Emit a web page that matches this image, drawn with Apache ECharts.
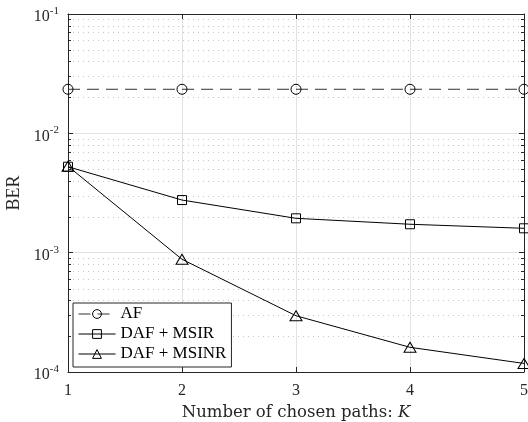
<!DOCTYPE html>
<html>
<head>
<meta charset="utf-8">
<script src="https://cdn.jsdelivr.net/npm/echarts@6/dist/echarts.min.js"></script>
<style>html,body{margin:0;padding:0;background:#fff;}#c{width:528px;height:422px;}</style>
</head>
<body>
<div id="c"></div>
<script>
const kValues = [1, 2, 3, 4, 5];
const afBER = [2.34e-2, 2.34e-2, 2.34e-2, 2.34e-2, 2.34e-2];
const dafMsirBER = [5.25e-3, 2.76e-3, 1.94e-3, 1.73e-3, 1.60e-3];
const dafMsinrBER = [5.3e-3, 8.8e-4, 2.96e-4, 1.61e-4, 1.18e-4];
const seriesNames = ['AF', 'DAF + MSIR', 'DAF + MSINR'];
const yMin = 1e-4, yMax = 1e-1;

const FONT = 'Liberation Serif';
const AXIS_COLOR = '#262626';

// minor log ticks (2..9 per decade)
const minorVals = [];
for (let d = -4; d < -1; d++) {
  for (let m = 2; m <= 9; m++) minorVals.push(m * Math.pow(10, d));
}

function pairs(ys) { return kValues.map((k, i) => [k, ys[i]]); }

const chart = echarts.init(document.getElementById('c'), null, {renderer: 'canvas'});

const markerStyle = {color: 'rgba(0,0,0,0)', borderColor: '#000', borderWidth: 1};

const option = {
  backgroundColor: '#fff',
  animation: false,
  textStyle: {fontFamily: FONT},
  grid: {left: 68, right: 4, top: 14, bottom: 50, containLabel: false, outerBoundsMode: 'none'},
  legend: {
    data: seriesNames,
    orient: 'vertical',
    left: 73, top: 303,
    itemWidth: 37, itemHeight: 11, itemGap: 0,
    padding: [1, 5, 3, 5],
    backgroundColor: '#fff',
    borderColor: AXIS_COLOR, borderWidth: 1,
    lineStyle: {width: 1},
    itemStyle: {borderWidth: 1},
    textStyle: {fontFamily: FONT, fontSize: 17, color: '#000', lineHeight: 20}
  },
  xAxis: [{
    type: 'value', min: 1, max: 5, interval: 1, position: 'bottom',
    name: '{n|Number of chosen paths: }{i|K}', nameLocation: 'middle', nameGap: 28,
    nameTextStyle: {rich: {
      n: {fontFamily: 'DejaVu Serif', fontSize: 16.5, color: '#262626'},
      i: {fontFamily: 'DejaVu Serif', fontSize: 16.5, fontStyle: 'italic', color: '#262626'}
    }},
    axisLine: {show: true, lineStyle: {color: AXIS_COLOR, width: 1}},
    axisTick: {show: true, inside: true, length: 5, lineStyle: {color: AXIS_COLOR}},
    axisLabel: {fontFamily: FONT, fontSize: 16, color: '#262626', margin: 11},
    splitLine: {show: true, lineStyle: {color: '#e3e3e3', width: 1}}
  }, {
    type: 'value', min: 1, max: 5, interval: 1, position: 'top',
    axisLine: {show: true, lineStyle: {color: AXIS_COLOR, width: 1}},
    axisTick: {show: true, inside: true, length: 5, lineStyle: {color: AXIS_COLOR}},
    axisLabel: {show: false}, splitLine: {show: false}
  }],
  yAxis: [{
    type: 'log', logBase: 10, min: yMin, max: yMax, position: 'left',
    name: 'BER', nameLocation: 'middle', nameGap: 44,
    nameTextStyle: {fontFamily: FONT, fontSize: 18, color: '#262626'},
    axisLine: {show: true, lineStyle: {color: AXIS_COLOR, width: 1}},
    axisTick: {show: true, inside: true, length: 5, lineStyle: {color: AXIS_COLOR}},
    axisLabel: {
      margin: 9,
      formatter: function (v) {
        const e = Math.round(Math.log10(v));
        return '{b|10}{s|' + (e < 0 ? '-' + Math.abs(e) : e) + '}';
      },
      rich: {
        b: {fontFamily: FONT, fontSize: 16, color: '#262626', padding: [6, 0, 0, 0]},
        s: {fontFamily: FONT, fontSize: 11, color: '#262626', padding: [0, 0, 6, 0]}
      }
    },
    splitLine: {show: true, lineStyle: {color: '#e3e3e3', width: 1}}
  }, {
    type: 'log', logBase: 10, min: yMin, max: yMax, position: 'right',
    axisLine: {show: true, lineStyle: {color: AXIS_COLOR, width: 1}},
    axisTick: {show: true, inside: true, length: 5, lineStyle: {color: AXIS_COLOR}},
    axisLabel: {show: false}, splitLine: {show: false}
  }],
  series: [
    {
      type: 'custom', name: 'minor', xAxisIndex: 0, yAxisIndex: 0, silent: true, z: 1,
      data: minorVals.map(v => [1, v]),
      renderItem: function (params, api) {
        const v = api.value(1);
        const p1 = api.coord([1, v]);
        const p2 = api.coord([5, v]);
        const y = Math.round(p1[1]) + 0.5;
        return {type: 'group', children: [
          {type: 'line', shape: {x1: p1[0], y1: y, x2: p2[0], y2: y}, style: {stroke: '#c4c4c4', lineWidth: 1, lineDash: [1, 4]}},
          {type: 'line', shape: {x1: p1[0], y1: y, x2: p1[0] + 3, y2: y}, style: {stroke: AXIS_COLOR, lineWidth: 1}},
          {type: 'line', shape: {x1: p2[0] - 3, y1: y, x2: p2[0], y2: y}, style: {stroke: AXIS_COLOR, lineWidth: 1}}
        ]};
      }
    },
    {
      name: seriesNames[0], type: 'line', data: pairs(afBER), z: 3,
      symbol: 'circle', symbolSize: 10,
      lineStyle: {color: '#333', width: 1, type: [12, 7]},
      itemStyle: markerStyle
    },
    {
      name: seriesNames[1], type: 'line', data: pairs(dafMsirBER), z: 3,
      symbol: 'rect', symbolSize: 9,
      lineStyle: {color: '#000', width: 1},
      itemStyle: markerStyle
    },
    {
      name: seriesNames[2], type: 'line', data: pairs(dafMsinrBER), z: 3,
      symbol: 'triangle', symbolSize: [12, 10],
      lineStyle: {color: '#000', width: 1},
      itemStyle: markerStyle
    }
  ]
};
chart.setOption(option);
</script>
</body>
</html>
